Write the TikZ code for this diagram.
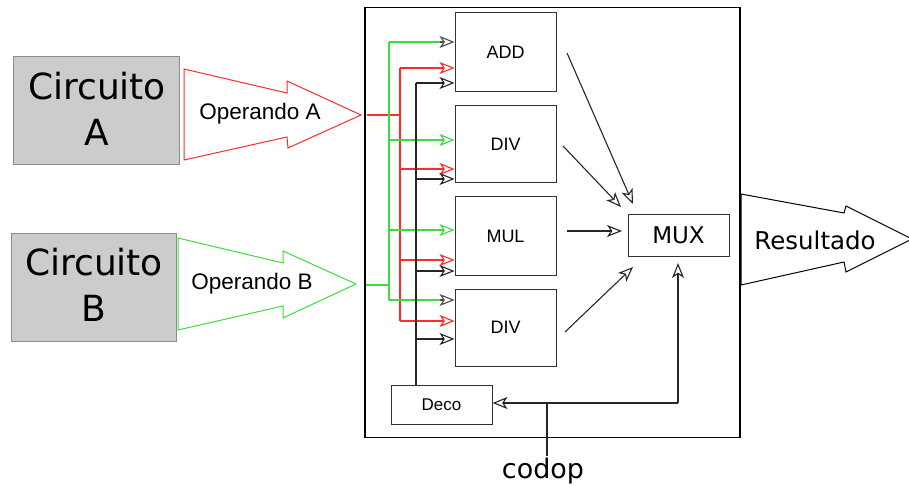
\documentclass[tikz,border=0pt]{standalone}
\usepackage{fontspec}
\setmainfont{DejaVu Sans}
\newfontfamily\arialf{Liberation Sans}
\usetikzlibrary{arrows.meta}
\definecolor{myred}{HTML}{FF2A2A}
\definecolor{mygreen}{HTML}{3CDC3C}
\definecolor{boxgray}{HTML}{CCCCCC}
\begin{document}
\begin{tikzpicture}[x=1pt,y=-1pt,
  blk/.style={draw=black!80, line width=1pt, inner sep=0pt, font=\arialf\fontsize{18}{20}\selectfont},
  circ/.style={draw=black!45, fill=boxgray, line width=1pt, inner sep=0pt},
  circtext/.style={align=center, font=\fontsize{36}{46}\selectfont},
  wire/.style={line width=1.1pt},
  hd/.style={-{Stealth[open,length=15pt,width=12pt,inset=4pt]}},
  bigarrow/.style={line width=1pt, fill=white},
  optext/.style={font=\arialf\fontsize{22.5}{26}\selectfont}
]
\useasboundingbox (0,0) rectangle (909,486);

% outer box
\node[draw=black, line width=1.5pt, minimum width=375pt, minimum height=430pt, inner sep=0pt] (outer) at (552.5,222.5) {};

% circuits
\node[circ, minimum width=166pt, minimum height=108pt] (ca) at (96,111) {};
\node[circtext] (cat) at (97,109) {Circuito\\A};
\node[circ, minimum width=165pt, minimum height=108pt] (cb) at (93.5,287) {};
\node[circtext] (cbt) at (94,285) {Circuito\\B};

% big arrows
\draw[bigarrow, draw=myred] (184,69) -- (287,93) -- (287,81) -- (361,115) -- (288,148) -- (287,137) -- (184,160) -- cycle;
\node[optext] (opa) at (260,114) {Operando A};
\draw[bigarrow, draw=mygreen] (178,238) -- (283,263) -- (283,251) -- (356,284) -- (283,318) -- (283,306) -- (178,330) -- cycle;
\node[optext] (opb) at (252,284) {Operando B};
\draw[bigarrow, draw=black] (741,194) -- (844,213) -- (846,206) -- (912,239) -- (846,272) -- (844,262) -- (741,285) -- cycle;
\node[font=\fontsize{24.5}{28}\selectfont] (res) at (815,240) {Resultado};

% blocks
\node[blk, minimum width=101pt, minimum height=79pt] (add) at (505.5,52.5) {ADD};
\node[blk, minimum width=101pt, minimum height=77pt] (div1) at (505.5,144.5) {DIV};
\node[blk, minimum width=101pt, minimum height=78pt] (mul) at (505.5,236) {MUL};
\node[blk, minimum width=101pt, minimum height=77pt] (div2) at (505.5,327.5) {DIV};
\node[blk, minimum width=101pt, minimum height=39pt, font=\arialf\fontsize{17}{20}\selectfont] (deco) at (441.5,404.5) {Deco};
\node[blk, minimum width=101pt, minimum height=41pt, font=\fontsize{23}{26}\selectfont] (mux) at (678.5,235.5) {MUX};

% codop
\node[anchor=base, font=\fontsize{27}{30}\selectfont, inner sep=1pt] (codop) at (543,478) {codop};

% red bus (operand A)
\coordinate (ain) at (367,115);
\coordinate (rj) at (400,115);
\draw[wire, myred] (ain) -- (rj);
\draw[wire, myred] (400,68) -- (400,321);
\draw[wire, myred, hd] (400,68) -- (400,68 -| add.west);
\draw[wire, myred, hd] (400,169) -- (400,169 -| div1.west);
\draw[wire, myred, hd] (400,260) -- (400,260 -| mul.west);
\draw[wire, myred, hd] (400,321) -- (400,321 -| div2.west);

% green bus (operand B)
\coordinate (bin) at (366,285);
\coordinate (gj) at (389,285);
\draw[wire, mygreen] (bin) -- (gj);
\draw[wire, mygreen] (389,42) -- (389,300);
\draw[wire, mygreen] (389,42) -- (441,42);
\draw[wire, black!70, hd] (440,42) -- (440,42 -| add.west);
\draw[wire, mygreen, hd] (389,140) -- (389,140 -| div1.west);
\draw[wire, mygreen, hd] (389,230) -- (389,230 -| mul.west);
\draw[wire, mygreen] (389,300) -- (441,300);
\draw[wire, black!70, hd] (440,300) -- (440,300 -| div2.west);

% black bus (deco)
\draw[wire, black!85] (deco.north -| 416,0) -- (416,83);
\draw[wire, black!85, hd] (416,83) -- (416,83 -| add.west);
\draw[wire, black!85, hd] (416,179) -- (416,179 -| div1.west);
\draw[wire, black!85, hd] (416,271) -- (416,271 -| mul.west);
\draw[wire, black!85, hd] (416,339) -- (416,339 -| div2.west);

% to MUX
\coordinate (a1) at (567,53);  \coordinate (a1e) at (633,204);
\coordinate (a2) at (563,146); \coordinate (a2e) at (621,207);
\coordinate (a3) at (567,231); \coordinate (a3e) at (622,231);
\coordinate (a4) at (565,332); \coordinate (a4e) at (633,267);
\draw[wire, black!85, hd] (a1) -- (a1e);
\draw[wire, black!85, hd] (a2) -- (a2e);
\draw[wire, black!85, hd] (a3) -- (a3e);
\draw[wire, black!85, hd] (a4) -- (a4e);

% codop wiring
\coordinate (cj) at (547,403);
\coordinate (cr) at (678,403);
\coordinate (mb) at (678,263);
\draw[wire, black!85] (cj |- codop.north) -- (cj);
\draw[wire, black!85, hd] (cj) -- (cj -| deco.east);
\draw[wire, black!85] (cj) -- (cr);
\draw[wire, black!85, hd] (cr) -- (mb);
\end{tikzpicture}
\end{document}
